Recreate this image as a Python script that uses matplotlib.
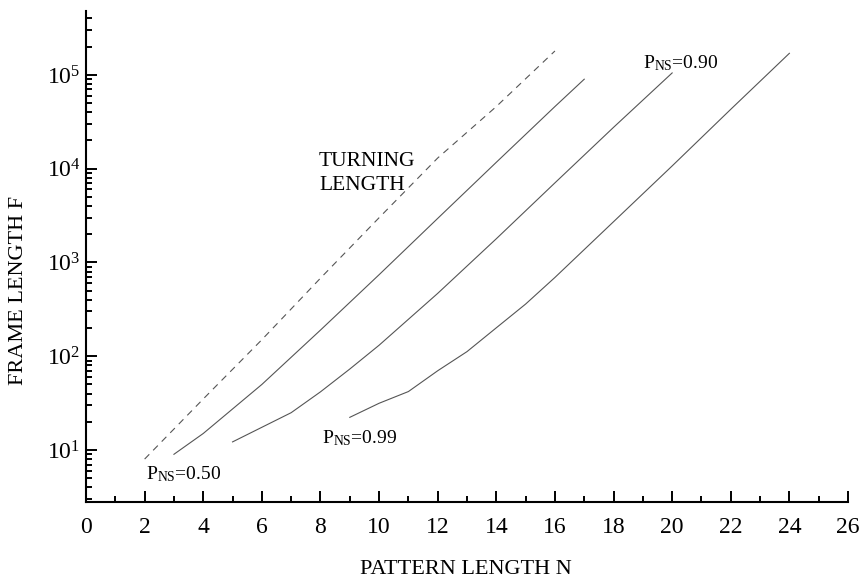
import matplotlib
matplotlib.use("Agg")
import matplotlib.pyplot as plt
from matplotlib.ticker import FixedLocator, LogLocator, NullFormatter, MultipleLocator

plt.rcParams['font.family'] = ['Liberation Serif', 'DejaVu Serif']
plt.rcParams['mathtext.fontset'] = 'custom'
plt.rcParams['mathtext.rm'] = 'Liberation Serif'
plt.rcParams['mathtext.it'] = 'Liberation Serif:italic'

# ---- data ----
turn_n = [2, 4, 6, 8, 10, 12, 14, 16]
turn_f = [8, 35, 150, 680, 3000, 13000, 46000, 180000]

p50_n = [3, 4, 6, 8, 10, 12, 14, 16, 17]
p50_f = [9.0, 15, 50, 190, 740, 2950, 11700, 46000, 90000]

p90_n = [5, 7, 8, 9, 10, 12, 14, 16, 18, 20]
p90_f = [12.2, 25, 41.7, 73, 131, 468, 1790, 7060, 27600, 105000]

p99_n = [9, 10, 11, 12, 13, 14, 15, 16, 18, 20, 22, 24]
p99_f = [22.3, 31.5, 42, 70, 112, 201, 360, 692, 2720, 10700, 43000, 170000]

x_ticks = list(range(0, 27, 2))
y_ticks = [10, 100, 1000, 10000, 100000]
y_tick_labels = [r'$\mathregular{10^{1}}$', r'$\mathregular{10^{2}}$', r'$\mathregular{10^{3}}$',
                 r'$\mathregular{10^{4}}$', r'$\mathregular{10^{5}}$']

fig = plt.figure(figsize=(8.61, 5.81), dpi=100)
ax = fig.add_axes([0.0999, 0.136, 0.8850, 0.845])

line_color = '#555555'
ax.plot(turn_n, turn_f, color=line_color, lw=0.8, dashes=(6, 5))
ax.plot(p50_n, p50_f, color=line_color, lw=0.8)
ax.plot(p90_n, p90_f, color=line_color, lw=0.8)
ax.plot(p99_n, p99_f, color=line_color, lw=0.8)

ax.set_yscale('log')
ax.set_xlim(0, 26)
ax.set_ylim(2.79, 4.8e5)

for s in ['top', 'right']:
    ax.spines[s].set_visible(False)
for s in ['left', 'bottom']:
    ax.spines[s].set_linewidth(1.5)

ax.xaxis.set_major_locator(FixedLocator(x_ticks))
ax.xaxis.set_minor_locator(MultipleLocator(1))
ax.set_xticklabels([str(t) for t in x_ticks])
ax.yaxis.set_major_locator(FixedLocator(y_ticks))
ax.yaxis.set_minor_locator(LogLocator(base=10, subs=range(2, 10), numticks=20))
ax.yaxis.set_minor_formatter(NullFormatter())
ax.set_yticklabels(y_tick_labels)

ax.tick_params(axis='both', which='major', direction='in', length=8, width=1.4)
ax.tick_params(axis='both', which='minor', direction='in', length=4.5, width=1.4)
ax.tick_params(axis='x', which='major', labelsize=17, pad=11)
ax.tick_params(axis='y', which='major', labelsize=17, pad=4)

fig.text(0.5415, 7.0 / 581, 'PATTERN LENGTH N', fontsize=16, ha='center', va='baseline')
ax.set_ylabel('FRAME LENGTH F', fontsize=16)
ax.yaxis.set_label_coords(-0.076, 0.43)

ax.text(7.95, 1.52e4, 'TURNING\nLENGTH', fontsize=15.5, ha='left', va='top', linespacing=1.35)
ax.text(2.05, 4.85, r'P$_{\rm NS}$=0.50', fontsize=14, ha='left', va='baseline')
ax.text(8.05, 11.9, r'P$_{\rm NS}$=0.99', fontsize=14, ha='left', va='baseline')
ax.text(19.0, 1.18e5, r'P$_{\rm NS}$=0.90', fontsize=14, ha='left', va='baseline')

fig.savefig('out.png', dpi=100)
